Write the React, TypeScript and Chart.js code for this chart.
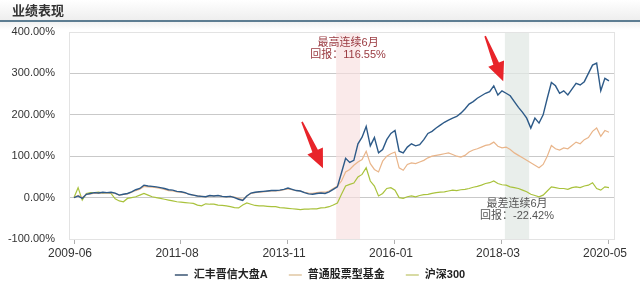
import React, { useEffect, useRef } from 'react';
import { Chart, registerables } from 'chart.js';
Chart.register(...registerables);

const FONT = '"Liberation Sans", "Noto Sans CJK SC", sans-serif';

const titleText = '业绩表现';
const tickLabels = ['2009-06', '2011-08', '2013-11', '2016-01', '2018-03', '2020-05'];
const tickIndex = [0, 26, 52, 78, 104, 130];
const seriesNames = ['汇丰晋信大盘A', '普通股票型基金', '沪深300'];

const fundA = [
  0, 4, -2, 8, 10, 12, 11, 13, 12, 13,
  11, 6, 8, 10, 14, 19, 22, 30, 28, 27,
  26, 24, 22, 19, 18, 15, 14, 12, 8, 6,
  4, 3, 2, 5, 4, 5, 3, 2, 3, 0,
  -4, -7, 4, 11, 13, 14, 15, 16, 17, 17,
  18, 20, 23, 20, 17, 16, 12, 9, 8, 10,
  11, 10, 14, 20, 26, 60, 95, 85, 90, 130,
  146, 172, 125, 145, 108, 116, 140, 155, 162, 112,
  108, 122, 130, 125, 128, 140, 155, 160, 168, 175,
  182, 187, 192, 196, 204, 214, 226, 232, 240, 246,
  252, 256, 270, 248, 258, 252, 246, 232, 218, 206,
  192, 168, 192, 180, 200, 240, 278, 270, 252, 258,
  248, 262, 276, 272, 280, 300, 320, 325, 258, 288,
  282,
];

const stockFunds = [
  0, 5, 0, 8, 9, 11, 10, 12, 11, 12,
  10, 6, 8, 9, 13, 17, 20, 27, 26, 25,
  24, 22, 20, 17, 16, 14, 13, 11, 8, 6,
  4, 3, 2, 4, 4, 5, 3, 2, 3, 1,
  -2, -5, 4, 10, 12, 13, 14, 15, 16, 16,
  17, 19, 21, 19, 17, 16, 13, 11, 10, 12,
  13, 13, 16, 22, 28, 40, 62, 68, 78, 86,
  92, 112, 82, 68, 62, 88, 100, 106, 110, 72,
  66, 80, 84, 82, 86, 90, 96, 100, 102, 104,
  106, 108, 104, 100, 98, 102, 110, 115, 118, 122,
  126, 128, 134, 124, 120, 122, 116, 108, 102, 96,
  90, 84, 78, 72, 80, 100, 126, 118, 115, 120,
  118, 126, 134, 130, 140, 145, 160, 168, 148, 162,
  158,
];

const csi300 = [
  0, 24, -6, 10, 12, 12, 13, 11, 12, 10,
  -3, -8, -10, -2, 0, 2, 6, 10, 6, 2,
  0, -2, -4, -6, -8, -10, -11, -12, -13, -14,
  -18, -20, -15, -16, -16, -18, -19, -20, -22, -24,
  -25, -18, -13, -16, -19, -20, -20, -21, -22, -22,
  -24, -25, -26, -27, -28, -29, -28, -28, -27, -27,
  -25, -24, -22, -18, -13, 8, 28, 32, 35, 50,
  56, 72, 40, 28, 4, 10, 22, 24, 18, 0,
  -2, 2, 4, 2, 5, 7, 8, 10, 12, 13,
  14, 16, 18, 17, 19, 20, 22, 25, 27, 30,
  34, 36, 40, 34, 31, 30, 26, 24, 22, 18,
  14, 8, 5, 2, 6, 16, 26, 24, 22, 22,
  20, 24, 26, 24, 28, 30, 36, 22, 18, 26,
  24,
];

const yMin = -100;
const yMax = 400;
const yStep = 100;

const bestRange = [63.7, 69.5];
const worstRange = [104.7, 110.6];
const bestLines = ['最高连续6月', '回报：116.55%'];
const worstLines = ['最差连续6月', '回报：-22.42%'];
const bestLabelY = 374;
const worstLabelY = -15;
// arrows: [tailX, tailY, tipX, tipY] in data units
const arrows = [
  [55.4, 183, 60.5, 71],
  [99.9, 390, 104.3, 281],
];

const lineColors = ['#2d5a88', '#e9b58a', '#a9c23c'];
const legendColors = ['#6b7f96', '#e8d5ba', '#d8dba4'];

const decorPlugin = {
  id: 'decor',
  beforeDraw(chart: any) {
    const { ctx, width } = chart;
    ctx.save();
    ctx.fillStyle = '#ffffff';
    ctx.fillRect(0, 0, width, chart.height);
    const g = ctx.createLinearGradient(0, 0, 0, 20);
    g.addColorStop(0, '#ffffff');
    g.addColorStop(1, '#eeeeee');
    ctx.fillStyle = g;
    ctx.fillRect(0, 0, width, 20);
    ctx.fillStyle = '#5d7d92';
    ctx.fillRect(0, 20, width, 2);
    const g2 = ctx.createLinearGradient(0, 22, 0, 30);
    g2.addColorStop(0, '#f1f1f1');
    g2.addColorStop(1, '#ffffff');
    ctx.fillStyle = g2;
    ctx.fillRect(0, 22, width, 8);
    ctx.fillStyle = '#333333';
    ctx.font = 'bold 13px ' + FONT;
    ctx.textBaseline = 'middle';
    ctx.textAlign = 'left';
    ctx.fillText(titleText, 12, 11);
    ctx.restore();
  },
  beforeDatasetsDraw(chart: any) {
    const { ctx, chartArea: a, scales } = chart;
    const x = scales.x;
    ctx.save();
    ctx.strokeStyle = '#e3e3e3';
    ctx.lineWidth = 1;
    ctx.strokeRect(Math.round(a.left) + 0.5, Math.round(a.top) + 0.5, Math.round(a.right - a.left) - 1, Math.round(a.bottom - a.top));
    const b0 = x.getPixelForValue(bestRange[0]);
    const b1 = x.getPixelForValue(bestRange[1]);
    ctx.fillStyle = 'rgba(248, 222, 222, 0.65)';
    ctx.fillRect(b0, a.top + 1, b1 - b0, a.bottom - a.top - 1);
    const w0 = x.getPixelForValue(worstRange[0]);
    const w1 = x.getPixelForValue(worstRange[1]);
    ctx.fillStyle = 'rgba(226, 232, 228, 0.75)';
    ctx.fillRect(w0, a.top + 1, w1 - w0, a.bottom - a.top - 1);
    ctx.restore();
  },
  afterDatasetsDraw(chart: any) {
    const { ctx, scales } = chart;
    const x = scales.x;
    const y = scales.y;
    ctx.save();
    ctx.font = '11px ' + FONT;
    ctx.textAlign = 'center';
    ctx.textBaseline = 'middle';
    const bx = x.getPixelForValue((bestRange[0] + bestRange[1]) / 2);
    const by = y.getPixelForValue(bestLabelY);
    ctx.fillStyle = '#9a3a40';
    ctx.fillText(bestLines[0], bx, by);
    ctx.fillText(bestLines[1], bx, by + 12.5);
    const wx = x.getPixelForValue((worstRange[0] + worstRange[1]) / 2);
    const wy = y.getPixelForValue(worstLabelY);
    ctx.fillStyle = '#555555';
    ctx.fillText(worstLines[0], wx, wy);
    ctx.fillText(worstLines[1], wx, wy + 12.5);

    ctx.fillStyle = '#e8242a';
    for (const ar of arrows) {
      const x1 = x.getPixelForValue(ar[0]);
      const y1 = y.getPixelForValue(ar[1]);
      const x2 = x.getPixelForValue(ar[2]);
      const y2 = y.getPixelForValue(ar[3]);
      const ang = Math.atan2(y2 - y1, x2 - x1);
      const L = Math.hypot(x2 - x1, y2 - y1);
      const H = 19;
      const pts = [[0, -0.8], [L - H, -3], [L - H, -8.5], [L, 0], [L - H, 8.5], [L - H, 3], [0, 0.8]];
      ctx.beginPath();
      pts.forEach((p, i) => {
        const px = x1 + p[0] * Math.cos(ang) - p[1] * Math.sin(ang);
        const py = y1 + p[0] * Math.sin(ang) + p[1] * Math.cos(ang);
        if (i === 0) ctx.moveTo(px, py); else ctx.lineTo(px, py);
      });
      ctx.closePath();
      ctx.fill();
    }
    ctx.restore();
  },
  afterDraw(chart: any) {
    const { ctx, width } = chart;
    ctx.save();
    ctx.font = 'bold 11px ' + FONT;
    ctx.textBaseline = 'middle';
    ctx.textAlign = 'left';
    const boxW = 13;
    const gapText = 6;
    const gapItem = 21;
    const widths = seriesNames.map((n) => boxW + gapText + ctx.measureText(n).width);
    const total = widths.reduce((s, v) => s + v, 0) + gapItem * (widths.length - 1);
    let cx = (width - total) / 2;
    const cy = 275;
    seriesNames.forEach((n, i) => {
      ctx.fillStyle = legendColors[i];
      ctx.fillRect(cx, cy - 1, boxW, 2);
      ctx.fillStyle = '#222222';
      ctx.fillText(n, cx + boxW + gapText, cy);
      cx += widths[i] + gapItem;
    });
    ctx.restore();
  },
};

export default function App() {
  const ref = useRef<HTMLCanvasElement | null>(null);
  useEffect(() => {
    if (!ref.current) return;
    Chart.defaults.font.family = FONT;
    const series = [fundA, stockFunds, csi300];
    const chart = new Chart(ref.current, {
      type: 'line',
      data: {
        datasets: series.map((s, k) => ({
          label: seriesNames[k],
          data: s.map((v, i) => ({ x: i, y: v })),
          borderColor: lineColors[k],
          borderWidth: k === 0 ? 1.4 : 1.2,
          pointRadius: 0,
          tension: 0,
          fill: false,
        })),
      },
      options: {
        animation: false,
        responsive: true,
        maintainAspectRatio: false,
        layout: { padding: { top: 32, bottom: 30, left: 0, right: 25 } },
        plugins: { legend: { display: false }, tooltip: { enabled: false } },
        scales: {
          x: {
            type: 'linear',
            min: -1.215,
            max: 131.46,
            afterFit(scale: any) { scale.height = 22; },
            afterBuildTicks(scale: any) { scale.ticks = tickIndex.map((v) => ({ value: v })); },
            ticks: {
              autoSkip: false,
              maxRotation: 0,
              padding: 2,
              labelOffset: -4,
              color: '#333333',
              font: { size: 12, family: FONT },
              callback: (v: any) => {
                const k = tickIndex.indexOf(Number(v));
                return k >= 0 ? tickLabels[k] : '';
              },
            },
            grid: { drawOnChartArea: false, drawTicks: true, tickLength: 5, color: '#b0b0b0' },
            border: { display: false },
          },
          y: {
            min: yMin,
            max: yMax,
            afterFit(scale: any) { scale.width = 69; },
            ticks: {
              stepSize: yStep,
              padding: 14,
              color: '#333333',
              font: { size: 11, family: FONT },
              callback: (v: any) => Number(v).toFixed(2) + '%',
            },
            grid: {
              drawTicks: false,
              color: (c: any) => (c.tick && (c.tick.value === yMin || c.tick.value === yMax) ? 'rgba(0,0,0,0)' : '#c9c9c9'),
            },
            border: { display: false },
          },
        },
      },
      plugins: [decorPlugin],
    });
    return () => chart.destroy();
  }, []);
  return (
    <div style={{ position: 'absolute', left: 0, top: 0, width: 640, height: 291 }}>
      <canvas ref={ref} />
    </div>
  );
}
